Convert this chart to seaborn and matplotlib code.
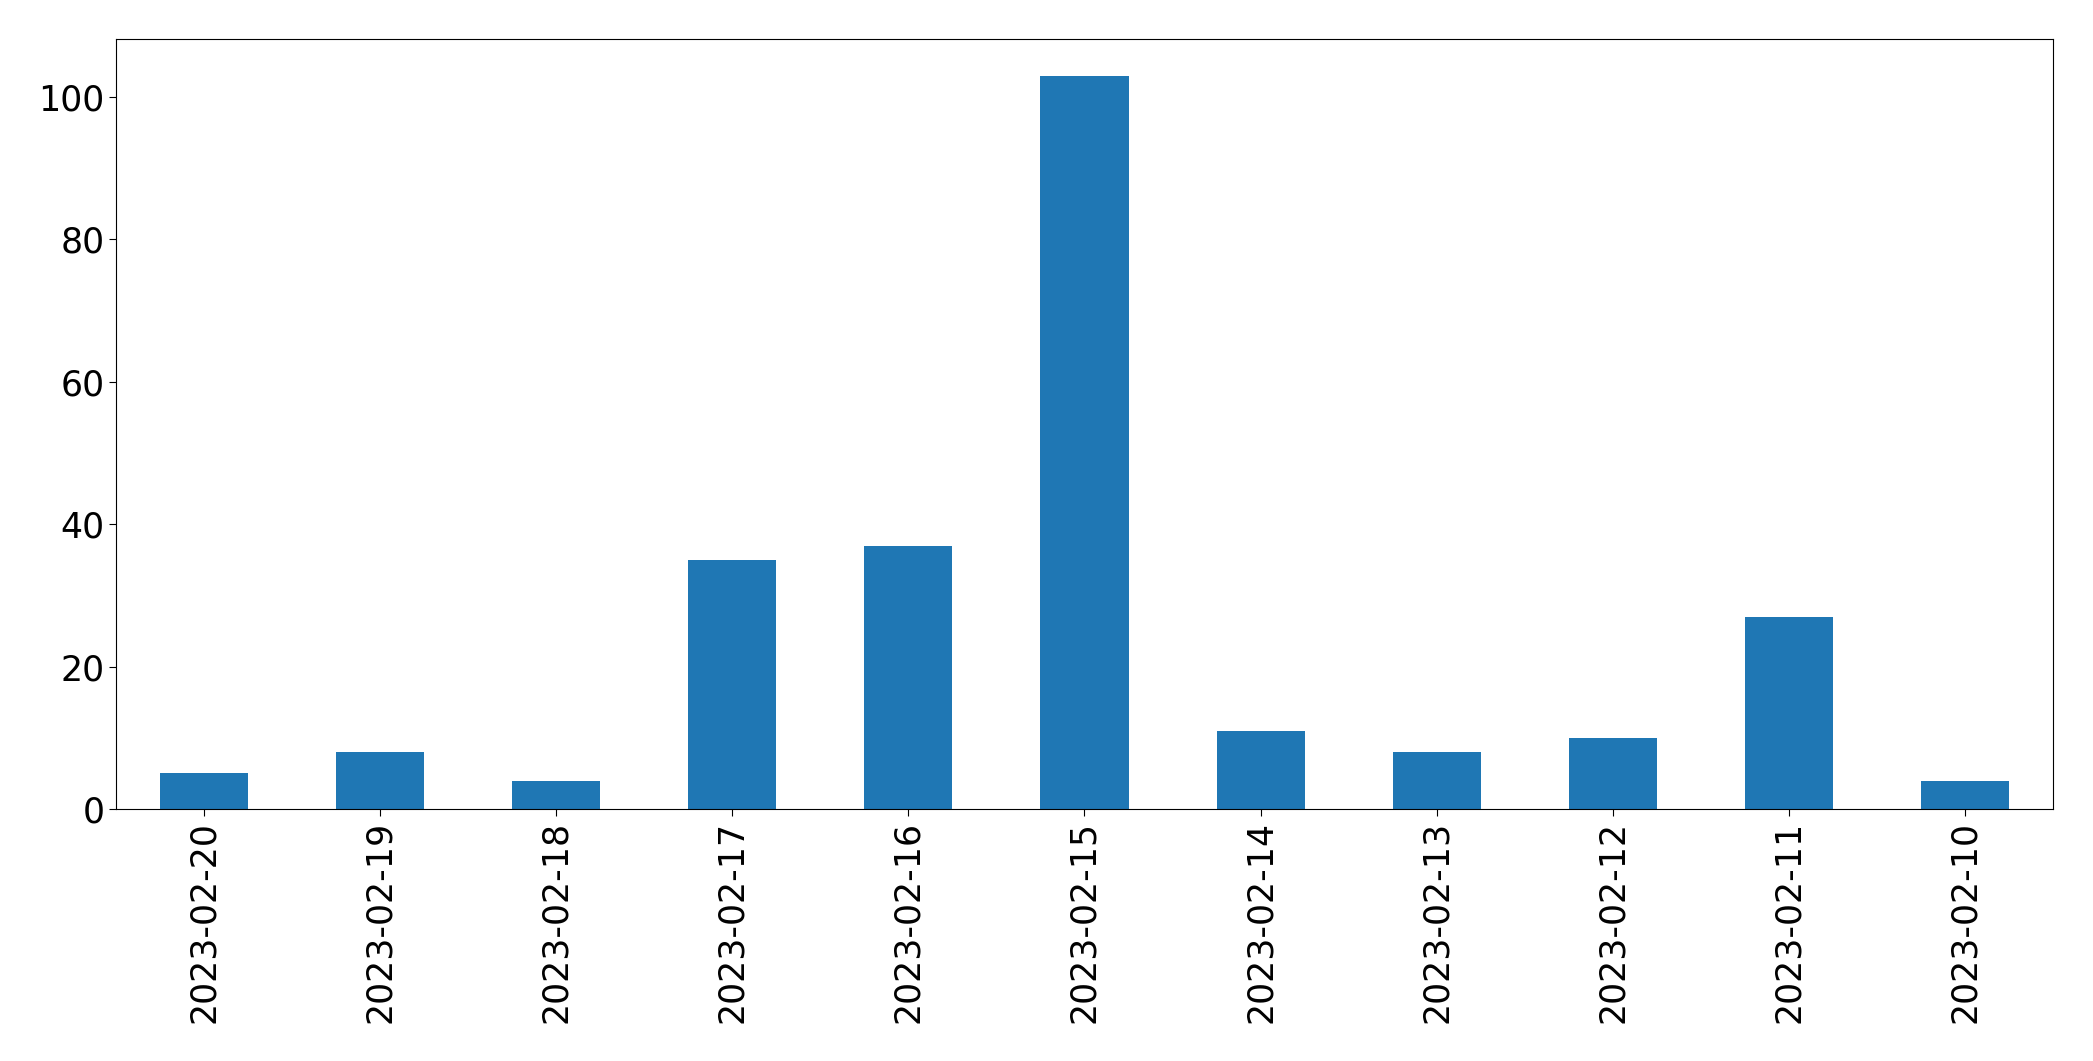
"""Daily counts bar chart."""

import matplotlib

matplotlib.use("Agg")
import matplotlib.pyplot as plt
import pandas as pd
import seaborn as sns

dates = [
    "2023-02-20",
    "2023-02-19",
    "2023-02-18",
    "2023-02-17",
    "2023-02-16",
    "2023-02-15",
    "2023-02-14",
    "2023-02-13",
    "2023-02-12",
    "2023-02-11",
    "2023-02-10",
]
counts = [5, 8, 4, 35, 37, 103, 11, 8, 10, 27, 4]


def main() -> None:
    frame = pd.DataFrame({"date": dates, "count": counts})

    sns.set_style("ticks")
    plt.rcParams["font.family"] = ["DejaVu Sans"]
    plt.rcParams.update(
        {
            "text.color": "black",
            "xtick.color": "black",
            "ytick.color": "black",
            "axes.edgecolor": "black",
        }
    )

    fig = plt.figure(figsize=(20.93, 10.61), dpi=100)
    ax = fig.add_axes([0.0554, 0.2375, 0.9255, 0.7257])
    sns.barplot(
        data=frame,
        x="date",
        y="count",
        order=dates,
        color="#1f77b4",
        saturation=1,
        width=0.5,
        linewidth=0,
        ax=ax,
    )
    ax.set_xlim(-0.5, len(dates) - 0.5)
    ax.set_ylim(0, max(counts) * 1.05)
    ax.set_xlabel("")
    ax.set_ylabel("")
    ax.tick_params(axis="both", labelsize=25, length=4.9, width=0.8, colors="black")
    ax.tick_params(axis="x", labelrotation=90)
    for side in ax.spines.values():
        side.set_visible(True)
        side.set_linewidth(0.8)
        side.set_color("black")

    fig.savefig("out.png", dpi=100)
    plt.close(fig)


if __name__ == "__main__":
    main()
